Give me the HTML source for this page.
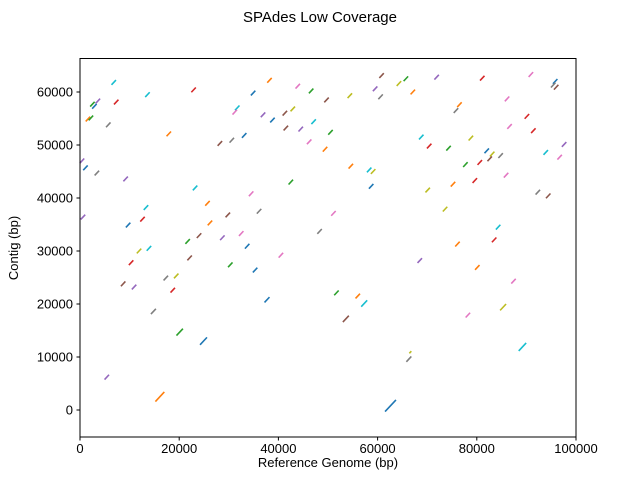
<!DOCTYPE html>
<html><head><meta charset="utf-8"><style>
body{margin:0;background:#fff;}
svg{display:block;font-family:"Liberation Sans","DejaVu Sans",sans-serif;}
</style></head><body>
<svg id="chart" width="640" height="480" viewBox="0 0 640 480">
<rect width="640" height="480" fill="#fff"/>
<text x="320" y="22" text-anchor="middle" font-size="15">SPAdes Low Coverage</text>
<g id="marks"></g>
<rect x="80" y="58.5" width="496" height="378.5" fill="none" stroke="#000" stroke-width="1"/>
<g id="xt"></g>
<g id="yt"></g>
<text x="328" y="467" text-anchor="middle" font-size="13">Reference Genome (bp)</text>
<text transform="translate(18,248) rotate(-90)" text-anchor="middle" font-size="13">Contig (bp)</text>
</svg>
<script>
const refCenters=[6800,13600,22900,3600,2500,2900,7300,1600,2200,5700,31700,31200,17900,28200,30600,33100,400,1100,3400,9200,23200,25700,29800,13300,12600,9700,600,26200,24000,21700,28700,32500,
38200,43900,46600,34900,49700,54400,60800,64300,65700,59500,60600,67100,36900,41300,42900,38800,41500,44500,47100,50500,46200,49400,54600,58300,59100,58700,42500,34500,36100,51100,48300,33700,
71900,81100,90900,95800,95400,96000,76500,75800,86100,90100,86600,91400,68800,70400,74300,78800,82000,83100,82600,84800,80600,77700,93900,96700,97600,79600,85900,75200,70100,92300,94400,73600,84300,83500,76100,
11900,13900,10300,22100,30300,17300,19400,8700,10900,18700,14800,20100,24900,5400,16100,
40500,35300,37700,51700,56000,57300,53600,66600,66300,62600,
68500,80100,87400,85300,78200,89200];
const contigCenters=[61800,59500,60400,58300,57700,57300,58100,54900,55100,53800,57000,56200,52100,50300,50900,51800,47000,45700,44700,43600,41900,39000,36800,38200,36000,34900,36400,35300,32900,31800,32500,33300,
62200,61100,60200,59800,58500,59300,63100,61600,62500,60600,59100,60000,55700,56000,56800,54700,53200,53000,54400,52400,50600,49200,46000,45300,45000,42200,43000,40800,37500,37100,33700,30900,
62800,62600,63300,62000,61300,60900,57600,56500,58700,55400,53500,52700,51500,49800,49400,51300,48900,48300,47400,48000,46700,46300,48600,47700,50100,43300,44300,42600,41500,41100,40400,37900,34500,32100,31300,
30000,30500,27800,28700,27400,24900,25300,23800,23200,22600,18600,14700,13000,6200,2500,
29200,26400,20800,22100,21500,20100,17200,10900,9600,800,
28200,26900,24300,19400,17900,11900];
const alignLengths=[900,900,900,900,900,900,900,900,900,900,900,900,900,900,900,900,900,900,900,900,900,900,900,900,900,900,900,900,900,900,900,900,
900,900,900,900,900,900,900,900,900,900,900,900,900,900,900,900,900,900,900,900,900,900,900,900,900,900,900,900,900,900,900,900,
900,900,900,900,900,900,900,900,900,900,900,900,900,900,900,900,900,900,900,900,900,900,900,900,900,900,900,900,900,900,900,900,900,900,900,
900,900,900,900,900,900,900,900,900,900,1000,1300,1400,900,1800,
900,900,1000,900,900,1200,1200,400,1000,2200,
900,900,900,1200,900,1500];
const seriesIdx=[9,9,3,4,2,0,3,1,2,7,9,6,1,5,7,0,4,0,7,4,9,1,5,9,3,0,4,1,5,2,4,6,
1,6,2,0,5,8,5,8,2,4,7,1,4,5,8,0,5,4,9,2,6,1,1,9,8,0,2,6,7,6,7,0,
4,3,6,0,7,5,1,7,6,3,6,3,9,3,2,8,0,8,5,7,3,2,9,6,4,3,6,1,8,7,5,8,9,3,1,
8,9,3,5,2,7,8,5,4,3,7,2,0,4,1,
6,0,0,2,1,9,5,8,7,0,
4,1,6,8,6,9];
const palette=["#1f77b4","#ff7f0e","#2ca02c","#d62728","#9467bd","#8c564b","#e377c2","#7f7f7f","#bcbd22","#17becf"];
const xTicks=[0,20000,40000,60000,80000,100000];
const yTicks=[0,10000,20000,30000,40000,50000,60000];
const NS="http://www.w3.org/2000/svg";
function sx(v){return 80+v*496/100000;}
function sy(v){return 410-v*0.0053;}
const marks=document.getElementById('marks');
for(let i=0;i<refCenters.length;i++){
  const h=alignLengths[i]/2;
  const l=document.createElementNS(NS,'line');
  l.setAttribute('x1',sx(refCenters[i]-h));l.setAttribute('y1',sy(contigCenters[i]-h));
  l.setAttribute('x2',sx(refCenters[i]+h));l.setAttribute('y2',sy(contigCenters[i]+h));
  l.setAttribute('stroke',palette[seriesIdx[i]]);l.setAttribute('stroke-width','1.6');
  
  
  marks.appendChild(l);
}
const xt=document.getElementById('xt');
xTicks.forEach(v=>{
  const x=sx(v);
  const t=document.createElementNS(NS,'line');
  t.setAttribute('x1',x);t.setAttribute('x2',x);t.setAttribute('y1',437);t.setAttribute('y2',440.5);t.setAttribute('stroke','#000');
  
  
  xt.appendChild(t);
  const s=document.createElementNS(NS,'text');
  s.setAttribute('x',x);s.setAttribute('y',453);s.setAttribute('text-anchor','middle');s.setAttribute('font-size','13');
  s.textContent=String(v);
  
  
  xt.appendChild(s);
});
const yt=document.getElementById('yt');
yTicks.forEach(v=>{
  const y=sy(v);
  const t=document.createElementNS(NS,'line');
  t.setAttribute('x1',76.5);t.setAttribute('x2',80);t.setAttribute('y1',y);t.setAttribute('y2',y);t.setAttribute('stroke','#000');
  
  
  yt.appendChild(t);
  const s=document.createElementNS(NS,'text');
  s.setAttribute('x',73);s.setAttribute('y',y+4.5);s.setAttribute('text-anchor','end');s.setAttribute('font-size','13');
  s.textContent=String(v);
  
  
  yt.appendChild(s);
});
</script>
</body></html>
